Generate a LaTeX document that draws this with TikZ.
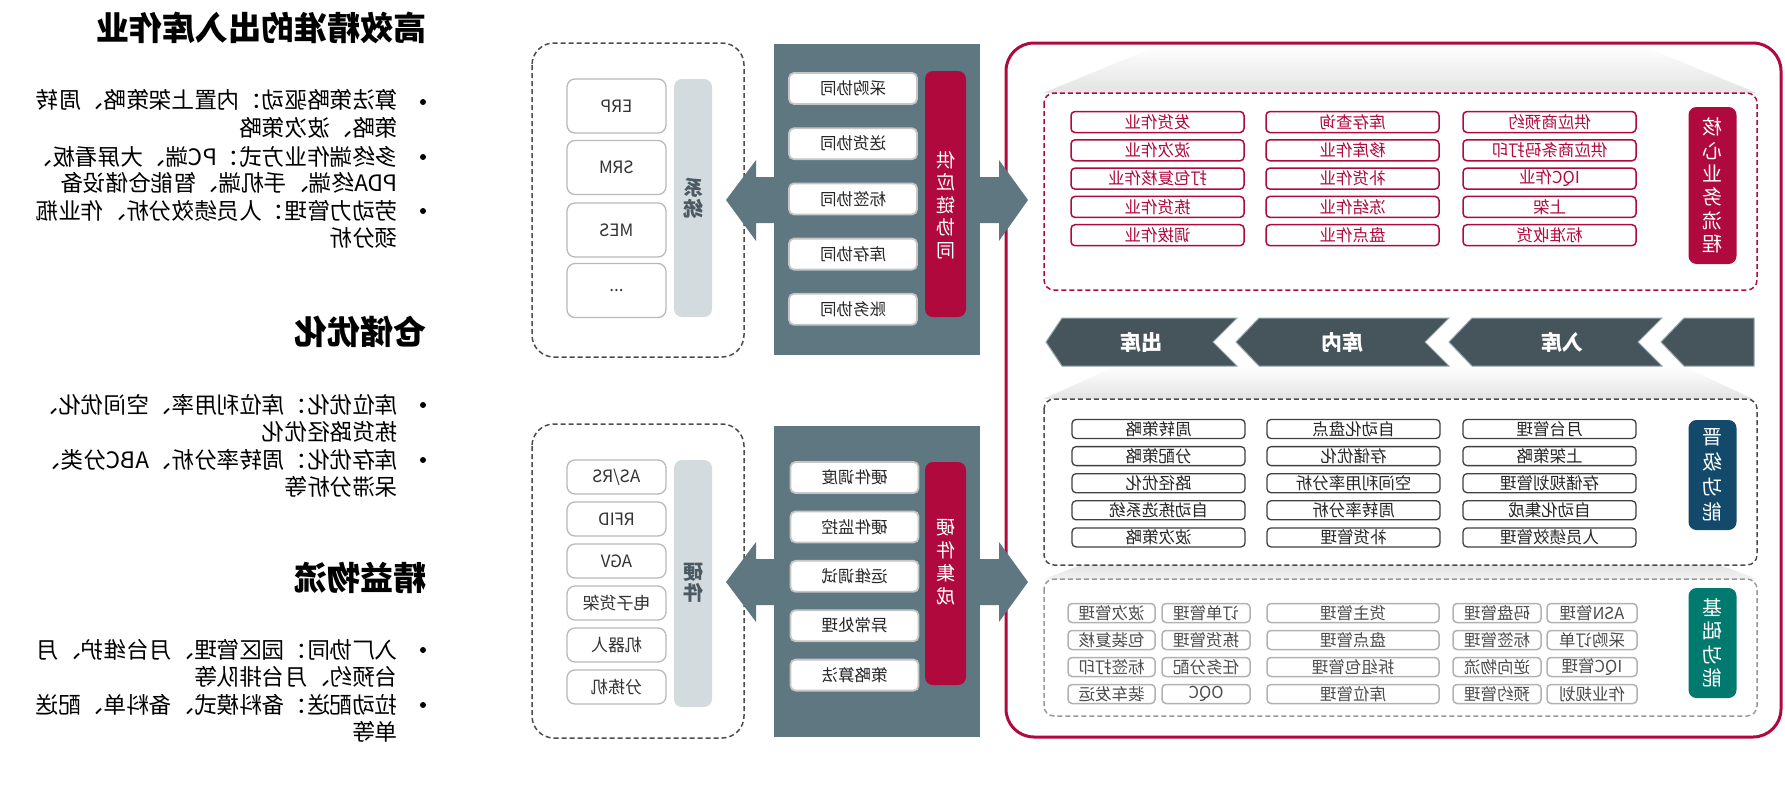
\documentclass[tikz,border=0pt]{standalone}
\usepackage{fontspec}
\usepackage{graphicx}
\setmainfont{Noto Sans CJK SC}
\newcommand\mirr[1]{\reflectbox{#1}}
\definecolor{crim}{HTML}{B0093E}
\definecolor{slate}{HTML}{5F7780}
\definecolor{chev}{HTML}{46545B}
\definecolor{chevline}{HTML}{93A6AC}
\definecolor{navy}{HTML}{134A6B}
\definecolor{tealc}{HTML}{00796F}
\definecolor{barg}{HTML}{D4DBDF}
\definecolor{bart}{HTML}{4B5A62}
\tikzset{
  sysbox/.style={draw=gray!55, line width=1.3, rounded corners=8, fill=white, minimum width=99, minimum height=#1, inner sep=0, text=black!80, font=\fontsize{17}{17}\selectfont},
  wbox/.style={draw=gray!45, line width=1.8, rounded corners=5, fill=white, minimum width=128, minimum height=31, inner sep=0, text=black!85, font=\fontsize{16.5}{16.5}\selectfont},
  corebox/.style={draw=crim, line width=1.5, rounded corners=4, fill=white, minimum width=173, minimum height=21, inner sep=0, text=crim, font=\fontsize{16.5}{16.5}\selectfont},
  midbox/.style={draw=black!75, line width=1.3, rounded corners=4, fill=white, minimum width=173, minimum height=19, inner sep=0, text=black!85, font=\fontsize{16.5}{16.5}\selectfont},
  basebox/.style={draw=gray!60, line width=1.5, rounded corners=4, fill=white, minimum width=#1, minimum height=19, inner sep=0, text=black!70, font=\fontsize{16.5}{16.5}\selectfont},
  vlabel/.style={fill=#1, rounded corners=8, minimum width=48, inner sep=0, text=white, align=center},
  bodytxt/.style={anchor=base east, inner sep=0, font=\fontsize{22.6}{22.6}\selectfont},
  titletxt/.style={anchor=base east, inner sep=0, font=\fontsize{33}{33}\selectfont\bfseries},
  bul/.style={circle, fill=black, inner sep=0, minimum size=6},
  dbox/.style={dashed, dash pattern=on 5pt off 3pt, line width=1.5, rounded corners=#1},
  chevtxt/.style={text=white, font=\fontsize{21}{21}\selectfont\bfseries, inner sep=0},
}
\begin{document}
\begin{tikzpicture}[x=1pt, y=-1pt]
\useasboundingbox (0,0) rectangle (1785,785);
\fill[white] (0,0) rectangle (1785,785);

% ---------- left texts ----------
\node[titletxt] (title1) at (427,40.5) {\mirr{高效精准的出入库作业}};
\node[titletxt] (title2) at (427,344) {\mirr{仓储优化}};
\node[titletxt] (title3) at (427,590) {\mirr{精益物流}};
\foreach \y [count=\i] in {102,157,211,405,460,650,705}
  \node[bul] (b\i) at (423,\y) {};
\foreach \y/\t [count=\i] in {100/算法策略驱动：内置上架策略、周转,128/策略、波次策略,157/多终端作业方式：PC端、大屏看板、,183/PDA终端、手机端、智能仓储设备,211/劳动力管理：人员绩效分析、作业瓶,238/颈分析}
  \node[bodytxt] (sa\i) at (398,{\y+8.6}) {\mirr{\t}};
\foreach \y/\t [count=\i] in {405/库位优化：库位利用率、空间优化、,432/拣货路径优化,460/库存优化：周转率分析、ABC分类、,487/呆滞分析等}
  \node[bodytxt] (sb\i) at (398,{\y+8.6}) {\mirr{\t}};
\foreach \y/\t [count=\i] in {650/入厂协同：园区管理、月台维护、月,677/台预约、月台排队等,705/拉动配送：备料模式、备料单、配送,732/单等}
  \node[bodytxt] (sc\i) at (398,{\y+8.6}) {\mirr{\t}};

% ---------- big crimson frame ----------
\draw[crim, line width=3, rounded corners=28] (1006,43) rectangle (1781,737);

% ---------- shading bands ----------
\shade[top color=white, bottom color=gray!22] (1160,45) -- (1640,45) -- (1757,93) -- (1043,93) -- cycle;
\shade[top color=white, bottom color=gray!22] (1117,366) -- (1683,366) -- (1753,399) -- (1043,399) -- cycle;
\shade[top color=gray!22, bottom color=gray!10] (1081,565) -- (1720,565) -- (1757,579) -- (1044,579) -- cycle;

% ---------- dashed groups on right ----------
\draw[dbox=10, crim, fill=white] (1044,93) rectangle (1757,290);
\draw[dbox=10, black!70, fill=white] (1044,399) rectangle (1757,565);
\draw[dbox=10, gray!80, fill=white] (1044,579) rectangle (1757,716);

% ---------- chevrons ----------
\begin{scope}[fill=chev, draw=chevline, line width=1]
\filldraw (1046,342) -- (1062,318) -- (1237,318) -- (1213,342) -- (1237,366) -- (1062,366) -- cycle;
\filldraw (1236,342) -- (1259,318) -- (1449,318) -- (1425,342) -- (1449,366) -- (1259,366) -- cycle;
\filldraw (1449,342) -- (1472,318) -- (1662,318) -- (1638,342) -- (1662,366) -- (1472,366) -- cycle;
\filldraw (1661,342) -- (1684,318) -- (1754,318) -- (1754,366) -- (1684,366) -- cycle;
\end{scope}
\node[chevtxt] (ch1) at (1141,342) {\mirr{出库}};
\node[chevtxt] (ch2) at (1342,342) {\mirr{库内}};
\node[chevtxt] (ch3) at (1562,342) {\mirr{入库}};

% ---------- core boxes ----------
\foreach \t [count=\i] in {发货作业,波次作业,打包复核作业,拣货作业,调拨作业}
  \node[corebox] (ca\i) at (1157.5,{122+28.3*(\i-1)}) {\mirr{\t}};
\foreach \t [count=\i] in {库存查询,移库作业,补货作业,冻结作业,盘点作业}
  \node[corebox] (cb\i) at (1352.5,{122+28.3*(\i-1)}) {\mirr{\t}};
\foreach \t [count=\i] in {供应商预约,供应商条码打印,IQC作业,上架,标准收货}
  \node[corebox] (cc\i) at (1549.5,{122+28.3*(\i-1)}) {\mirr{\t}};
\node[vlabel=crim, minimum height=157, font=\fontsize{20}{23.3}\selectfont] (corelbl) at (1712.5,185.5)
  {\mirr{核}\\\mirr{心}\\\mirr{业}\\\mirr{务}\\\mirr{流}\\\mirr{程}};

% ---------- upgrade boxes ----------
\foreach \t [count=\i] in {周转策略,分配策略,路径优化,自动拣选系统,波次策略}
  \node[midbox] (ma\i) at (1158.5,{429+27.1*(\i-1)}) {\mirr{\t}};
\foreach \t [count=\i] in {自动化盘点,存储优化,空间利用率分析,周转率分析,补货管理}
  \node[midbox] (mb\i) at (1353.5,{429+27.1*(\i-1)}) {\mirr{\t}};
\foreach \t [count=\i] in {月台管理,上架策略,存储规划管理,自动化集成,人员绩效管理}
  \node[midbox] (mc\i) at (1549.5,{429+27.1*(\i-1)}) {\mirr{\t}};
\node[vlabel=navy, minimum height=110, font=\fontsize{20}{25}\selectfont] (midlbl) at (1712.5,475)
  {\mirr{晋}\\\mirr{级}\\\mirr{功}\\\mirr{能}};

% ---------- basic boxes ----------
\foreach \t [count=\i] in {波次管理,包装复核,标签打印,装车发运}
  \node[basebox=87] (ba\i) at (1111.5,{613+27*(\i-1)}) {\mirr{\t}};
\foreach \t [count=\i] in {订单管理,拣货管理,任务分配,OQC}
  \node[basebox=88] (bb\i) at (1206,{613+27*(\i-1)}) {\mirr{\t}};
\foreach \t [count=\i] in {货主管理,盘点管理,拆组包管理,库位管理}
  \node[basebox=172] (bc\i) at (1353,{613+27*(\i-1)}) {\mirr{\t}};
\foreach \t [count=\i] in {码盘管理,标签管理,逆向物流,预约管理}
  \node[basebox=88] (bd\i) at (1497,{613+27*(\i-1)}) {\mirr{\t}};
\foreach \t [count=\i] in {ASN管理,采购订单,IQC管理,作业规划}
  \node[basebox=90] (be\i) at (1592,{613+27*(\i-1)}) {\mirr{\t}};
\node[vlabel=tealc, minimum height=110, font=\fontsize{20}{23.5}\selectfont] (baselbl) at (1712.5,643)
  {\mirr{基}\\\mirr{础}\\\mirr{功}\\\mirr{能}};

% ---------- left dashed groups ----------
\draw[dbox=22, black!70] (532,43) rectangle (744,357);
\draw[dbox=22, black!70] (532,424) rectangle (744,738);
\node[fill=barg, rounded corners=8, minimum width=38, minimum height=238, inner sep=0] (sysbar) at (693,198) {};
\node[text=bart, font=\fontsize{20}{21}\selectfont\bfseries, align=center, inner sep=0] (systxt) at (693,198) {\mirr{系}\\\mirr{统}};
\node[fill=barg, rounded corners=8, minimum width=38, minimum height=247, inner sep=0] (hwbar) at (693,583.5) {};
\node[text=bart, font=\fontsize{20}{21}\selectfont\bfseries, align=center, inner sep=0] (hwtxt) at (693,583) {\mirr{硬}\\\mirr{件}};
\node[sysbox=54] (sy1) at (616.5,106) {\mirr{ERP}};
\node[sysbox=54] (sy2) at (616.5,167.5) {\mirr{SRM}};
\node[sysbox=54] (sy3) at (616.5,230) {\mirr{MES}};
\node[sysbox=54] (sy4) at (616.5,290.5) {\mirr{...}};
\foreach \t [count=\i] in {AS/RS,RFID,AGV,电子货架,机器人,分拣机}
  \node[sysbox=34] (hw\i) at (616.5,{477+42*(\i-1)}) {\mirr{\t}};

% ---------- double arrows ----------
\fill[slate] (726,200) -- (756,160) -- (756,177) -- (999,177) -- (999,160) -- (1028,200) -- (999,241) -- (999,223) -- (756,223) -- (756,241) -- cycle;
\fill[slate] (726,582) -- (756,542) -- (756,559) -- (999,559) -- (999,542) -- (1028,582) -- (999,622) -- (999,605) -- (756,605) -- (756,622) -- cycle;

% ---------- slate panels ----------
\fill[slate] (774,44) rectangle (980,355);
\fill[slate] (774,426) rectangle (980,737);
\foreach \t [count=\i] in {采购协同,送货协同,标签协同,库存协同,账务协同}
  \node[wbox] (pa\i) at (853,{88.5+55.2*(\i-1)}) {\mirr{\t}};
\foreach \t [count=\i] in {硬件调度,硬件监控,运维调试,异常处理,策略算法}
  \node[wbox] (pb\i) at (854.5,{477.5+49.4*(\i-1)}) {\mirr{\t}};
\node[fill=crim, rounded corners=8, minimum width=41, minimum height=246, inner sep=0] (scbar) at (945.5,194) {};
\node[text=white, font=\fontsize{19}{22.5}\selectfont, align=center, inner sep=0] (sctxt) at (945.5,205)
  {\mirr{供}\\\mirr{应}\\\mirr{链}\\\mirr{协}\\\mirr{同}};
\node[fill=crim, rounded corners=8, minimum width=41, minimum height=223, inner sep=0] (hibar) at (945.5,573.5) {};
\node[text=white, font=\fontsize{19}{23}\selectfont, align=center, inner sep=0] (hitxt) at (945.5,562.5)
  {\mirr{硬}\\\mirr{件}\\\mirr{集}\\\mirr{成}};
\end{tikzpicture}
\end{document}
